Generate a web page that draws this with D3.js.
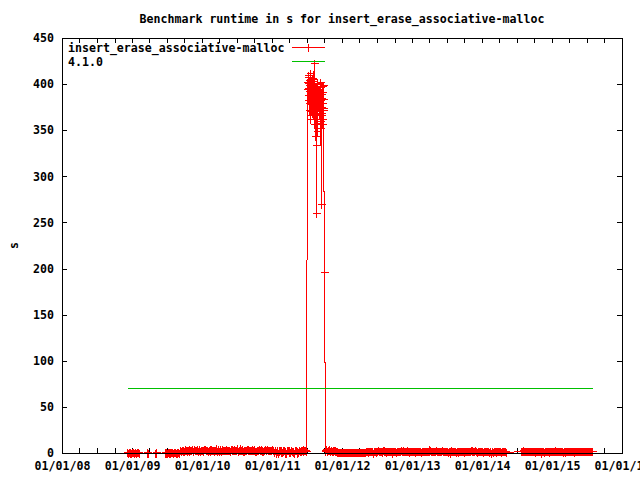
<!DOCTYPE html>
<html>
<head>
<meta charset="utf-8">
<script src="https://cdn.jsdelivr.net/npm/d3@7"></script>
<style>
  body { margin: 0; background: #fff; }
  svg { display: block; }
  text { font-family: "DejaVu Sans Mono", "Liberation Mono", monospace; font-weight: bold; font-size: 11.6px; fill: #000; }
</style>
</head>
<body>
<div id="chart"></div>
<script>
const titleText = 'Benchmark runtime in s for insert_erase_associative-malloc';
const seriesName = 'insert_erase_associative-malloc';
const refName = '4.1.0';

const yTicks = [0, 50, 100, 150, 200, 250, 300, 350, 400, 450];
const xTickLabels = ['01/01/08', '01/01/09', '01/01/10', '01/01/11', '01/01/12', '01/01/13', '01/01/14', '01/01/15', '01/01/16'];

// runs before the mid-2011 regression
const dates0809 = ['2008-12-05','2008-12-12','2008-12-19','2008-12-26','2009-01-02','2009-01-09','2009-01-16','2009-01-23','2009-01-30','2009-02-06',
  '2009-03-20','2009-03-22','2009-03-24','2009-05-02','2009-05-04','2009-05-06',
  '2009-06-19','2009-06-26','2009-07-03','2009-07-10','2009-07-17','2009-07-24','2009-07-31','2009-08-07','2009-08-14','2009-08-21','2009-08-28',
  '2009-09-08','2009-09-15','2009-09-22','2009-09-29','2009-10-06','2009-10-13','2009-10-20','2009-10-27','2009-11-03','2009-11-10',
  '2009-11-17','2009-11-24','2009-12-01','2009-12-08','2009-12-15','2009-12-22','2009-12-29'];
const values0809 = [0.6, 0.3, 0.9, 0.5, 0.7, 0.2, 1.0, 0.4, 0.8, 0.1,
  0.2, 0.9, 0.1, 0.1, 0.9, 0.1,
  0.2, 1.0, 0.3, 0.8, 0.5, 1.1, 0.2, 0.7, 0.9, 0.4, 0.6,
  3.0, 2.4, 3.3, 2.7, 3.6, 2.5, 3.1, 4.3, 2.8, 3.9,
  2.6, 3.2, 2.9, 4.6, 3.4, 2.7, 3.5];
const extraDates0809 = ['2008-12-08','2008-12-15','2008-12-22','2008-12-29','2009-01-05','2009-01-12','2009-01-19','2009-01-26','2009-02-02',
  '2009-06-22','2009-06-29','2009-07-06','2009-07-13','2009-07-20','2009-07-27','2009-08-03','2009-08-10','2009-08-17','2009-08-24','2009-08-31',
  '2009-09-11','2009-09-18','2009-09-25','2009-10-02','2009-10-09','2009-10-16','2009-10-23','2009-10-30','2009-11-06','2009-11-13',
  '2009-11-20','2009-11-27','2009-12-04','2009-12-11','2009-12-18','2009-12-25'];
const extraValues0809 = [0.4, 0.8, 0.2, 0.7, 1.1, 0.5, 0.3, 0.9, 0.6,
  0.8, 0.4, 1.0, 0.3, 0.6, 0.9, 0.5, 1.2, 0.3, 0.7, 0.4,
  2.7, 3.5, 2.2, 3.8, 2.9, 3.3, 2.4, 3.7, 3.0, 2.6,
  4.1, 2.8, 3.4, 2.5, 3.9, 3.1];

const dates10 = ['2010-01-05','2010-01-12','2010-01-19','2010-01-26','2010-02-02','2010-02-09','2010-02-16','2010-02-23','2010-03-02','2010-03-09',
  '2010-03-16','2010-03-23','2010-03-30','2010-04-06','2010-04-13','2010-04-20','2010-04-27','2010-05-04','2010-05-11','2010-05-18',
  '2010-05-25','2010-06-01','2010-06-08','2010-06-15','2010-06-22','2010-06-29','2010-07-06','2010-07-13','2010-07-20','2010-07-27',
  '2010-08-03','2010-08-10','2010-08-17','2010-08-24','2010-08-31','2010-09-07','2010-09-14','2010-09-21','2010-09-28','2010-10-05',
  '2010-10-12','2010-10-19','2010-10-26','2010-11-02','2010-11-09','2010-11-16','2010-11-23','2010-11-30','2010-12-07','2010-12-14',
  '2010-12-21','2010-12-28'];
const values10 = [2.9, 4.7, 3.2, 3.5, 2.6, 4.1, 3.0, 3.7, 2.7, 3.3,
  4.9, 3.1, 2.5, 3.8, 3.0, 3.4, 2.8, 4.4, 3.2, 3.6,
  2.6, 3.9, 3.0, 4.5, 2.9, 3.4, 2.7, 3.1, 5.2, 3.3,
  2.6, 3.7, 2.9, 4.0, 3.2, 2.8, 3.6, 4.6, 3.0, 2.7,
  3.5, 3.1, 4.2, 2.8, 3.4, 2.6, 3.9, 3.0, 4.8, 3.2,
  2.9, 3.6];
const extraDates10 = ['2010-01-01','2010-01-08','2010-01-15','2010-01-22','2010-01-29','2010-02-05','2010-02-12','2010-02-19','2010-02-26','2010-03-05',
  '2010-03-12','2010-03-19','2010-03-26','2010-04-02','2010-04-09','2010-04-16','2010-04-23','2010-04-30','2010-05-07','2010-05-14',
  '2010-05-21','2010-05-28','2010-06-04','2010-06-11','2010-06-18','2010-06-25','2010-07-02','2010-07-09','2010-07-16','2010-07-23',
  '2010-07-30','2010-08-06','2010-08-13','2010-08-20','2010-08-27','2010-09-03','2010-09-10','2010-09-17','2010-09-24','2010-10-01',
  '2010-10-08','2010-10-15','2010-10-22','2010-10-29','2010-11-05','2010-11-12','2010-11-19','2010-11-26','2010-12-03','2010-12-10',
  '2010-12-17','2010-12-24','2010-12-31'];
const extraValues10 = [3.3, 2.7, 4.0, 2.8, 3.5, 3.0, 2.5, 4.3, 3.2, 2.9,
  3.6, 2.7, 3.9, 3.1, 2.6, 4.4, 3.0, 3.3, 2.8, 3.7,
  3.2, 2.5, 4.1, 3.4, 2.9, 3.6, 5.0, 2.7, 3.3, 3.0,
  3.8, 2.6, 3.5, 2.9, 4.2, 3.1, 2.8, 3.4, 3.0, 4.5,
  2.7, 3.6, 3.2, 2.9, 3.9, 2.6, 3.3, 4.0, 3.1, 2.8,
  3.5, 3.0, 4.3];

const dates11 = ['2011-01-04','2011-01-11','2011-01-18','2011-01-25','2011-02-01','2011-02-08','2011-02-15','2011-02-22','2011-03-01','2011-03-08',
  '2011-03-15','2011-03-22','2011-03-29','2011-04-05','2011-04-12','2011-04-19','2011-04-26','2011-05-03','2011-05-10','2011-05-17',
  '2011-05-24','2011-05-31','2011-06-07','2011-06-14','2011-06-21','2011-06-28'];
const values11 = [3.4, 0.7, 3.1, 2.5, 0.4, 2.8, 3.6, 0.6, 3.3, 2.2,
  0.3, 2.9, 3.5, 0.8, 3.2, 2.4, 0.5, 3.0, 2.7, 0.9,
  3.4, 2.6, 3.1, 4.0, 2.8, 2.4];
const extraDates11 = ['2011-01-07','2011-01-14','2011-01-21','2011-01-28','2011-02-04','2011-02-11','2011-02-18','2011-02-25','2011-03-04','2011-03-11',
  '2011-03-18','2011-03-25','2011-04-01','2011-04-08','2011-04-15','2011-04-22','2011-04-29','2011-05-06','2011-05-13','2011-05-20',
  '2011-05-27','2011-06-03','2011-06-10','2011-06-17','2011-06-24'];
const extraValues11 = [2.9, 3.3, 0.5, 3.0, 2.6, 3.4, 0.8, 2.7, 3.1, 0.4,
  3.5, 2.8, 0.6, 3.2, 2.5, 0.9, 3.3, 2.9, 0.3, 3.0,
  2.7, 3.6, 2.5, 3.2, 2.9];

// the regression, July to September 2011
const spikeDates = ['2011-07-03','2011-07-05','2011-07-07','2011-07-09','2011-07-11','2011-07-13','2011-07-15','2011-07-17','2011-07-19','2011-07-21',
  '2011-07-23','2011-07-25','2011-07-27','2011-07-29','2011-07-31','2011-08-02','2011-08-04','2011-08-06','2011-08-08','2011-08-10',
  '2011-08-12','2011-08-14','2011-08-16','2011-08-18','2011-08-20','2011-08-22','2011-08-24','2011-08-26','2011-08-28','2011-08-30',
  '2011-09-01','2011-09-03','2011-09-05','2011-09-07','2011-09-09','2011-09-11','2011-09-13','2011-09-15','2011-09-17','2011-09-19',
  '2011-09-21','2011-09-23','2011-09-25','2011-09-27'];
const spikeValues = [402, 396, 410, 388, 399, 379, 405, 362, 392, 384,
  371, 398, 386, 407, 375, 390, 368, 423, 381, 394,
  344, 378, 334, 260, 386, 400, 372, 358, 395, 383,
  366, 388, 377, 352, 397, 270, 385, 369, 391, 380,
  362, 399, 374, 196];
const extraSpikeDates = ['2011-07-04','2011-07-06','2011-07-08','2011-07-10','2011-07-12','2011-07-14','2011-07-16','2011-07-18','2011-07-20','2011-07-22',
  '2011-07-24','2011-07-26','2011-07-28','2011-07-30','2011-08-01','2011-08-03','2011-08-05','2011-08-07','2011-08-09','2011-08-11',
  '2011-08-13','2011-08-15','2011-08-17','2011-08-19','2011-08-21','2011-08-23','2011-08-25','2011-08-27','2011-08-29','2011-08-31',
  '2011-09-02','2011-09-04','2011-09-06','2011-09-08','2011-09-10','2011-09-12','2011-09-14','2011-09-16','2011-09-18','2011-09-20',
  '2011-09-22','2011-09-24'];
const extraSpikeValues = [395, 408, 383, 401, 372, 393, 386, 412, 366, 397,
  379, 403, 388, 369, 399, 381, 406, 357, 391, 374,
  362, 387, 396, 368, 383, 401, 349, 392, 377, 386,
  371, 394, 360, 383, 402, 366, 389, 375, 398, 357,
  384, 372];

// runs after the regression was fixed
const dates1112 = ['2011-10-03','2011-10-10','2011-10-17','2011-10-24','2011-10-31','2011-11-07','2011-11-14','2011-11-21','2011-11-28','2011-12-05',
  '2011-12-12','2011-12-19','2011-12-26',
  '2012-01-02','2012-01-09','2012-01-16','2012-01-23','2012-01-30','2012-02-06','2012-02-13','2012-02-20','2012-02-27','2012-03-05',
  '2012-03-12','2012-03-19','2012-03-26','2012-04-02','2012-04-09','2012-04-16','2012-04-23','2012-04-30',
  '2012-05-07','2012-05-14','2012-05-21','2012-05-28','2012-06-04','2012-06-11','2012-06-18','2012-06-25','2012-07-02','2012-07-09',
  '2012-07-16','2012-07-23','2012-07-30','2012-08-06','2012-08-13','2012-08-20','2012-08-27','2012-09-03','2012-09-10','2012-09-17',
  '2012-09-24','2012-10-01','2012-10-08','2012-10-15','2012-10-22','2012-10-29','2012-11-05','2012-11-12','2012-11-19','2012-11-26',
  '2012-12-03','2012-12-10','2012-12-17','2012-12-24','2012-12-31'];
const values1112 = [2.6, 3.8, 2.2, 4.1, 2.7, 3.3, 2.0, 3.0, 1.9, 2.5,
  1.2, 0.9, 1.4,
  0.8, 1.3, 0.7, 1.1, 1.5, 0.9, 1.2, 0.6, 1.4, 1.0,
  0.8, 1.3, 1.1, 0.7, 1.6, 1.2, 0.9, 1.4,
  2.1, 1.6, 2.4, 1.9, 2.2, 0.5, 2.0, 2.6, 1.8, 3.4,
  2.1, 2.5, 0.7, 2.9, 2.0, 1.6, 2.3, 1.9, 2.1, 2.6,
  1.8, 2.2, 1.5, 2.7, 1.9, 2.4, 3.0, 2.0, 2.5, 1.7,
  2.8, 2.1, 0.6, 2.4, 1.9];
const extraDates1112 = ['2011-10-06','2011-10-13','2011-10-20','2011-10-27','2011-11-03','2011-11-10','2011-11-17','2011-11-24','2011-12-01','2011-12-08',
  '2011-12-15','2011-12-22','2011-12-29',
  '2012-01-05','2012-01-12','2012-01-19','2012-01-26','2012-02-02','2012-02-09','2012-02-16','2012-02-23','2012-03-01','2012-03-08',
  '2012-03-15','2012-03-22','2012-03-29','2012-04-05','2012-04-12','2012-04-19','2012-04-26',
  '2012-05-03','2012-05-10','2012-05-17','2012-05-24','2012-05-31','2012-06-07','2012-06-14','2012-06-21','2012-06-28','2012-07-05',
  '2012-07-12','2012-07-19','2012-07-26','2012-08-02','2012-08-09','2012-08-16','2012-08-23','2012-08-30','2012-09-06','2012-09-13',
  '2012-09-20','2012-09-27','2012-10-04','2012-10-11','2012-10-18','2012-10-25','2012-11-01','2012-11-08','2012-11-15','2012-11-22',
  '2012-11-29','2012-12-06','2012-12-13','2012-12-20','2012-12-27'];
const extraValues1112 = [3.1, 2.4, 3.5, 2.9, 3.7, 2.3, 2.8, 3.2, 2.1, 1.5,
  1.0, 1.3, 0.8,
  1.2, 0.9, 1.4, 0.7, 1.1, 1.3, 0.8, 1.5, 1.0, 0.6,
  1.2, 0.9, 1.4, 1.1, 0.7, 1.3, 1.6,
  1.9, 2.3, 1.7, 2.6, 2.0, 1.8, 2.5, 2.2, 0.6, 2.8,
  1.9, 2.3, 2.1, 3.1, 1.7, 2.4, 2.0, 2.6, 1.8, 2.2,
  0.5, 2.7, 2.0, 1.6, 2.4, 2.1, 1.9, 2.5, 2.8, 1.7,
  2.3, 2.0, 2.6, 1.8, 2.2];

const dates13 = ['2013-01-07','2013-01-14','2013-01-21','2013-01-28','2013-02-04','2013-02-11','2013-02-18','2013-02-25','2013-03-04','2013-03-11',
  '2013-03-18','2013-03-25','2013-04-01','2013-04-08','2013-04-15','2013-04-22','2013-04-29','2013-05-06','2013-05-13','2013-05-20',
  '2013-05-27','2013-06-03','2013-06-10','2013-06-17','2013-06-24','2013-07-01','2013-07-08','2013-07-15','2013-07-22','2013-07-29',
  '2013-08-05','2013-08-12','2013-08-19','2013-08-26','2013-09-02','2013-09-09','2013-09-16','2013-09-23','2013-09-30','2013-10-07',
  '2013-10-14','2013-10-21','2013-10-28','2013-11-04','2013-11-11','2013-11-18','2013-11-25','2013-12-02','2013-12-09','2013-12-16',
  '2013-12-23','2013-12-30'];
const values13 = [2.2, 1.5, 2.0, 2.6, 1.8, 2.3, 1.6, 2.1, 1.9, 2.5,
  1.7, 2.2, 3.9, 2.0, 1.8, 2.6, 2.1, 2.9, 1.8, 2.4,
  2.0, 2.6, 1.7, 2.2, 1.9, 2.5, 1.6, 2.1, 2.8, 2.3,
  1.9, 2.4, 0.6, 2.0, 1.7, 2.4, 1.9, 2.2, 1.6, 2.6,
  1.8, 2.3, 2.0, 2.8, 1.9, 2.5, 3.2, 2.1, 1.7, 2.4,
  2.0, 2.6];
const extraDates13 = ['2013-01-03','2013-01-10','2013-01-17','2013-01-24','2013-01-31','2013-02-07','2013-02-14','2013-02-21','2013-02-28','2013-03-07',
  '2013-03-14','2013-03-21','2013-03-28','2013-04-04','2013-04-11','2013-04-18','2013-04-25','2013-05-02','2013-05-09','2013-05-16',
  '2013-05-23','2013-05-30','2013-06-06','2013-06-13','2013-06-20','2013-06-27','2013-07-04','2013-07-11','2013-07-18','2013-07-25',
  '2013-08-01','2013-08-08','2013-08-15','2013-08-22','2013-08-29','2013-09-05','2013-09-12','2013-09-19','2013-09-26','2013-10-03',
  '2013-10-10','2013-10-17','2013-10-24','2013-10-31','2013-11-07','2013-11-14','2013-11-21','2013-11-28','2013-12-05','2013-12-12',
  '2013-12-19','2013-12-26'];
const extraValues13 = [2.0, 2.4, 1.7, 2.2, 1.9, 2.6, 1.6, 2.3, 2.0, 2.7,
  1.8, 2.1, 2.5, 3.4, 1.9, 2.2, 1.7, 2.6, 2.0, 2.4,
  1.8, 2.3, 2.9, 1.7, 2.1, 2.5, 1.9, 2.2, 0.5, 2.6,
  2.0, 1.8, 2.4, 2.1, 1.6, 2.3, 2.7, 1.9, 2.2, 2.0,
  2.5, 1.7, 2.3, 2.1, 2.8, 1.8, 2.4, 2.0, 1.6, 2.2,
  2.6, 1.9];

const dates14 = ['2014-01-06','2014-01-13','2014-01-20','2014-01-27','2014-02-03','2014-02-10','2014-02-17','2014-02-24','2014-03-03','2014-03-10',
  '2014-03-17','2014-03-24','2014-03-31','2014-04-07','2014-04-14','2014-04-21','2014-04-28','2014-05-05',
  '2014-07-21','2014-07-28','2014-08-04','2014-08-11','2014-08-18','2014-08-25','2014-09-01','2014-09-08','2014-09-15','2014-09-22',
  '2014-09-29','2014-10-06','2014-10-13','2014-10-20','2014-10-27','2014-11-03','2014-11-10','2014-11-17','2014-11-24','2014-12-01',
  '2014-12-08','2014-12-15','2014-12-22','2014-12-29'];
const values14 = [1.6, 2.1, 1.9, 2.5, 1.7, 2.2, 0.4, 2.0, 1.8, 2.3,
  1.5, 2.1, 1.9, 2.6, 1.7, 2.2, 2.0, 1.6,
  2.7, 2.1, 2.9, 1.8, 2.4, 2.0, 2.6, 1.7, 2.2, 1.9,
  2.5, 1.6, 2.1, 1.8, 2.3, 0.5, 2.0, 1.7, 2.4, 1.9,
  2.2, 1.6, 2.6, 1.8];
const extraDates14 = ['2014-01-02','2014-01-09','2014-01-16','2014-01-23','2014-01-30','2014-02-06','2014-02-13','2014-02-20','2014-02-27','2014-03-06',
  '2014-03-13','2014-03-20','2014-03-27','2014-04-03','2014-04-10','2014-04-17','2014-04-24','2014-05-01',
  '2014-07-24','2014-07-31','2014-08-07','2014-08-14','2014-08-21','2014-08-28','2014-09-04','2014-09-11','2014-09-18','2014-09-25',
  '2014-10-02','2014-10-09','2014-10-16','2014-10-23','2014-10-30','2014-11-06','2014-11-13','2014-11-20','2014-11-27','2014-12-04',
  '2014-12-11','2014-12-18','2014-12-25'];
const extraValues14 = [2.0, 1.7, 2.3, 1.8, 2.2, 0.6, 1.9, 2.4, 1.6, 2.1,
  1.8, 2.5, 1.7, 2.0, 1.5, 2.3, 1.9, 1.7,
  2.3, 2.6, 1.9, 2.2, 2.7, 2.0, 1.8, 2.4, 2.1, 2.6,
  1.7, 2.3, 2.0, 1.8, 2.5, 1.9, 2.2, 0.7, 2.4, 1.8,
  2.1, 2.5, 1.9];

const dates15 = ['2015-01-05','2015-01-12','2015-01-19','2015-01-26','2015-02-02','2015-02-09','2015-02-16','2015-02-23','2015-03-02','2015-03-09',
  '2015-03-16','2015-03-23','2015-03-30','2015-04-06','2015-04-13','2015-04-20','2015-04-27','2015-05-04','2015-05-11','2015-05-18',
  '2015-05-25','2015-06-01','2015-06-08','2015-06-15','2015-06-22','2015-06-29','2015-07-06','2015-07-13','2015-07-20','2015-07-27'];
const values15 = [2.3, 2.0, 2.8, 1.9, 2.1, 1.7, 2.5, 1.8, 2.2, 1.6,
  2.4, 1.9, 2.6, 2.0, 1.8, 2.3, 1.5, 2.1, 2.7, 1.9,
  2.2, 1.7, 2.4, 2.0, 1.8, 2.5, 2.1, 1.9, 2.3, 2.0];
const extraDates15 = ['2015-01-01','2015-01-08','2015-01-15','2015-01-22','2015-01-29','2015-02-05','2015-02-12','2015-02-19','2015-02-26','2015-03-05',
  '2015-03-12','2015-03-19','2015-03-26','2015-04-02','2015-04-09','2015-04-16','2015-04-23','2015-04-30','2015-05-07','2015-05-14',
  '2015-05-21','2015-05-28','2015-06-04','2015-06-11','2015-06-18','2015-06-25','2015-07-02','2015-07-09','2015-07-16','2015-07-23',
  '2015-07-30'];
const extraValues15 = [2.1, 2.5, 1.8, 2.4, 2.0, 2.6, 1.9, 2.2, 0.6, 2.3,
  1.7, 2.1, 2.5, 1.8, 2.2, 2.6, 1.9, 2.0, 2.4, 1.7,
  2.3, 2.1, 1.8, 2.6, 2.0, 2.2, 1.9, 2.5, 2.1, 1.8,
  2.2];

// reference runtime of release 4.1.0
const refDates = ['2008-12-05', '2015-07-27'];
const refValues = [70.5, 70.5];

const width = 640;
const height = 480;
const margin = {top: 38, right: 18, bottom: 27, left: 62};

const parseDate = d3.timeParse('%Y-%m-%d');

const zip = (dates, values) => dates.map((d, i) => ({date: parseDate(d), value: values[i]}));

const runs = d3.sort([].concat(
  zip(dates0809, values0809), zip(extraDates0809, extraValues0809),
  zip(dates10, values10), zip(extraDates10, extraValues10),
  zip(dates11, values11), zip(extraDates11, extraValues11),
  zip(spikeDates, spikeValues), zip(extraSpikeDates, extraSpikeValues),
  zip(dates1112, values1112), zip(extraDates1112, extraValues1112),
  zip(dates13, values13), zip(extraDates13, extraValues13),
  zip(dates14, values14), zip(extraDates14, extraValues14),
  zip(dates15, values15), zip(extraDates15, extraValues15)
).filter(d => d.value != null), d => d.date);

const ref = zip(refDates, refValues);

const xScale = d3.scaleTime()
  .domain([new Date(2008, 0, 1), new Date(2016, 0, 1)])
  .range([margin.left, width - margin.right]);

const yScale = d3.scaleLinear()
  .domain([0, 450])
  .range([height - margin.bottom, margin.top]);

const px = v => Math.round(v) + 0.5;

const svg = d3.select('#chart')
  .append('svg')
  .attr('width', width)
  .attr('height', height)
  .style('background', '#fff');

svg.append('text')
  .attr('x', (margin.left + width - margin.right) / 2)
  .attr('y', 23)
  .attr('text-anchor', 'middle')
  .text(titleText);

svg.append('text')
  .attr('transform', `translate(18, ${(margin.top + height - margin.bottom) / 2}) rotate(-90)`)
  .attr('text-anchor', 'middle')
  .text('s');

const quarterTicks = xScale.ticks(d3.timeMonth.every(3));
const yearTicks = xScale.ticks(d3.timeYear.every(1));

const styleAxis = g => {
  g.select('.domain').remove();
  g.selectAll('line').attr('stroke', '#000').attr('shape-rendering', 'crispEdges');
  g.attr('font-family', null).attr('font-size', null);
};

svg.append('g')
  .attr('transform', `translate(0, ${height - margin.bottom})`)
  .call(d3.axisBottom(xScale).tickValues(quarterTicks).tickSize(-5).tickPadding(9)
    .tickFormat(d => {
      const i = yearTicks.findIndex(t => +t === +d);
      return i >= 0 ? xTickLabels[i] : '';
    }))
  .call(styleAxis);

svg.append('g')
  .attr('transform', `translate(0, ${margin.top})`)
  .call(d3.axisTop(xScale).tickValues(quarterTicks).tickSize(-5).tickFormat(''))
  .call(styleAxis);

svg.append('g')
  .attr('transform', `translate(${margin.left}, 0)`)
  .call(d3.axisLeft(yScale).tickValues(yTicks).tickSize(-5).tickPadding(8))
  .call(styleAxis);

svg.append('g')
  .attr('transform', `translate(${width - margin.right}, 0)`)
  .call(d3.axisRight(yScale).tickValues(yTicks).tickSize(-5).tickFormat(''))
  .call(styleAxis);

const line = d3.line()
  .x(d => px(xScale(d.date)))
  .y(d => px(yScale(d.value)));

svg.append('path')
  .datum(runs)
  .attr('d', line)
  .attr('fill', 'none')
  .attr('stroke', '#ff0000')
  .attr('stroke-width', 1)
  .attr('shape-rendering', 'crispEdges');

const plus = 'M-4,0H4M0,-4V4';

svg.append('g')
  .selectAll('path')
  .data(runs)
  .enter()
  .append('path')
  .attr('transform', d => `translate(${px(xScale(d.date))}, ${px(yScale(d.value))})`)
  .attr('d', plus)
  .attr('stroke', '#ff0000')
  .attr('stroke-width', 1)
  .attr('shape-rendering', 'crispEdges');

svg.append('path')
  .datum(ref)
  .attr('d', line)
  .attr('fill', 'none')
  .attr('stroke', '#00c000')
  .attr('stroke-width', 1)
  .attr('shape-rendering', 'crispEdges');

svg.append('rect')
  .attr('x', margin.left + 0.5)
  .attr('y', margin.top + 0.5)
  .attr('width', width - margin.left - margin.right)
  .attr('height', height - margin.top - margin.bottom)
  .attr('fill', 'none')
  .attr('stroke', '#000')
  .attr('shape-rendering', 'crispEdges');

const legend = svg.append('g');

legend.append('text')
  .attr('x', 68)
  .attr('y', 52)
  .text(seriesName);

legend.append('line')
  .attr('x1', 292).attr('x2', 325)
  .attr('y1', 47.5).attr('y2', 47.5)
  .attr('stroke', '#ff0000')
  .attr('shape-rendering', 'crispEdges');

legend.append('path')
  .attr('transform', 'translate(308.5, 47.5)')
  .attr('d', plus)
  .attr('stroke', '#ff0000')
  .attr('shape-rendering', 'crispEdges');

legend.append('text')
  .attr('x', 68)
  .attr('y', 66)
  .text(refName);

legend.append('line')
  .attr('x1', 292).attr('x2', 325)
  .attr('y1', 61.5).attr('y2', 61.5)
  .attr('stroke', '#00c000')
  .attr('shape-rendering', 'crispEdges');
</script>
</body>
</html>
